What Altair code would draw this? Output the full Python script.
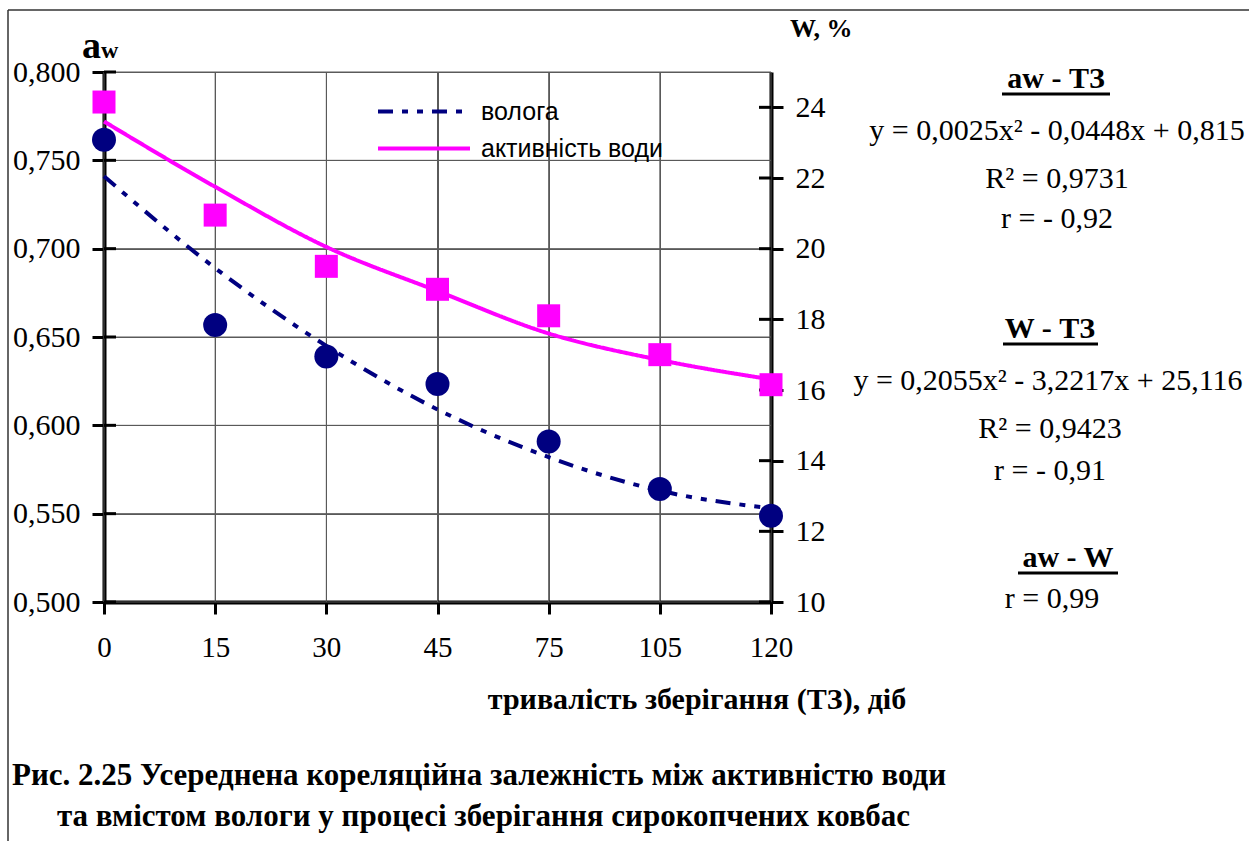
import altair as alt
import pandas as pd

# ---------------- data ----------------
days = ["0", "15", "30", "45", "75", "105", "120"]
aw_points = [0.783, 0.719, 0.690, 0.677, 0.662, 0.640, 0.623]      # магента квадрати (ліва вісь)
aw_trend = [0.772, 0.735, 0.701, 0.676, 0.652, 0.637, 0.626]       # лінія тренду aw
w_points = [23.08, 17.84, 16.95, 16.17, 14.54, 13.20, 12.44]       # сині кола (права вісь)
w_trend = [22.05, 19.45, 17.25, 15.45, 14.10, 13.15, 12.65]        # лінія тренду W
aw_ticks = [0.50, 0.55, 0.60, 0.65, 0.70, 0.75, 0.80]
w_ticks = [10, 12, 14, 16, 18, 20, 22, 24]
series_names = ["волога", "активність води"]
series_colors = ["#000080", "#ff00ff"]

OX, OY = 104, 72          # plot origin in page pixels
W_PLOT, H_PLOT = 667, 530

df = pd.DataFrame({"t": days, "aw": aw_points, "w": w_points})
df_aw_line = pd.DataFrame({"t": days, "v": aw_trend, "s": [series_names[1]] * len(days)})
df_w_line = pd.DataFrame({"t": days, "v": w_trend, "s": [series_names[0]] * len(days)})
df_hgrid = pd.DataFrame([{"t": d, "g": v} for v in aw_ticks for d in (days[0], days[-1])])
df_lt = pd.DataFrame({"t": [days[0]] * len(aw_ticks), "g": aw_ticks})
df_rt = pd.DataFrame({"t": [days[-1]] * len(w_ticks), "g": w_ticks})
df_days = pd.DataFrame({"t": days})
one = pd.DataFrame({"k": [0]})

SERIF = "Liberation Serif"
GRID = "#5a5a5a"

x_axis = alt.Axis(orient="bottom", title=None, labelAngle=0, labelFont=SERIF,
                  labelFontSize=29, labelColor="black", labelPadding=19,
                  tickSize=12, tickWidth=3, tickColor="black",
                  domainColor="black", domainWidth=4,
                  grid=True, gridColor=GRID, gridWidth=1)
x_scale = alt.Scale(type="point", padding=0)


def xe():
    return alt.X("t:N", sort=days, scale=x_scale, axis=x_axis)


color_scale = alt.Scale(domain=series_names, range=series_colors)
dash_scale = alt.Scale(domain=series_names, range=[[15, 9, 6, 9, 6, 9], [1, 0]])
legend = alt.Legend(orient="none", legendX=272, legendY=27, title=None,
                    symbolType="stroke", symbolSize=8464, symbolStrokeWidth=4,
                    clipHeight=25, rowPadding=11, labelOffset=9, padding=0,
                    labelLimit=500,
                    labelFont="Liberation Sans", labelFontSize=25, labelColor="black")

y_left = alt.Scale(domain=[0.5, 0.8], nice=False, zero=False)
y_right = alt.Scale(domain=[10, 25], nice=False, zero=False)

left_axis = alt.Axis(orient="left", title=None, values=aw_ticks,
                     labelExpr="replace(format(datum.value, '.3f'), '.', ',')",
                     labelFont=SERIF, labelFontSize=30, labelColor="black", labelPadding=12,
                     tickSize=12, tickWidth=3, tickColor="black",
                     domainColor="black", domainWidth=4,
                     grid=True, gridColor=GRID, gridWidth=1)
right_axis = alt.Axis(orient="right", title=None, values=w_ticks, format="d",
                      labelFont=SERIF, labelFontSize=30, labelColor="black", labelPadding=12,
                      tickSize=12, tickWidth=3, tickColor="black",
                      domainColor="black", domainWidth=4, grid=False)

# grid lines from the tick arrays, through the scales
v_grid = alt.Chart(df_days).mark_rule(color=GRID, strokeWidth=1).encode(x=xe())
h_grid = alt.Chart(df_hgrid).mark_line(color=GRID, strokeWidth=1).encode(
    x=xe(), y=alt.Y("g:Q", scale=y_left, axis=None), detail="g:N")
# inner halves of the crossing ticks on both value axes
left_inner = alt.Chart(df_lt).mark_point(
    shape="M0,0L1,0", size=576, stroke="black", strokeWidth=3, filled=False, opacity=1
).encode(x=xe(), y=alt.Y("g:Q", scale=y_left, axis=None))
right_inner = alt.Chart(df_rt).mark_point(
    shape="M-1,0L0,0", size=576, stroke="black", strokeWidth=3, filled=False, opacity=1
).encode(x=xe(), y=alt.Y("g:Q", scale=y_right, axis=None))

aw_line = alt.Chart(df_aw_line).mark_line(strokeWidth=4, interpolate="monotone").encode(
    x=xe(),
    y=alt.Y("v:Q", scale=y_left, axis=left_axis),
    color=alt.Color("s:N", scale=color_scale, legend=legend),
    strokeDash=alt.StrokeDash("s:N", scale=dash_scale, legend=legend),
)
aw_sq = alt.Chart(df).mark_square(size=529, color="#ff00ff", opacity=1).encode(
    x=xe(), y=alt.Y("aw:Q", scale=y_left, axis=None))

w_line = alt.Chart(df_w_line).mark_line(strokeWidth=4, interpolate="monotone").encode(
    x=xe(),
    y=alt.Y("v:Q", scale=y_right, axis=right_axis),
    color=alt.Color("s:N", scale=color_scale, legend=legend),
    strokeDash=alt.StrokeDash("s:N", scale=dash_scale, legend=legend),
)
w_pt = alt.Chart(df).mark_circle(size=576, color="#000080", opacity=1).encode(
    x=xe(), y=alt.Y("w:Q", scale=y_right, axis=None))


def txt(s, x, y, size=30, bold=False, align="left", font=SERIF):
    return alt.Chart(one).mark_text(
        text=s, align=align, baseline="alphabetic", font=font, fontSize=size,
        fontWeight="bold" if bold else "normal", color="black",
    ).encode(x=alt.value(x - OX), y=alt.value(y - OY))


def hline(x1, x2, y, w=3, color="black"):
    return alt.Chart(one).mark_rule(strokeWidth=w, color=color).encode(
        x=alt.value(x1 - OX), x2=alt.value(x2 - OX), y=alt.value(y - OY))


def vline(x, y1, y2, w=1.5, color="black"):
    return alt.Chart(one).mark_rule(strokeWidth=w, color=color).encode(
        x=alt.value(x - OX), y=alt.value(y1 - OY), y2=alt.value(y2 - OY))


annotations = [
    # frame
    hline(8, 1249, 10, w=1.5, color="#333333"),
    vline(8, 10, 841, w=1.5, color="#333333"),
    # axis names
    txt("a", 82, 58, size=38, bold=True),
    txt("w", 101, 58, size=24, bold=True),
    txt("W, %", 790, 37, size=26, bold=True),
    txt("тривалість зберігання (ТЗ), діб", 697, 709, size=30, bold=True, align="center"),
    # block 1
    txt("aw  - ТЗ", 1056, 88, bold=True, align="center"),
    hline(1002, 1110, 94),
    txt("y = 0,0025x² - 0,0448x + 0,815", 1057, 140, align="center"),
    txt("R² = 0,9731", 1057, 188, align="center"),
    txt("r = - 0,92", 1057, 228, align="center"),
    # block 2
    txt("W - ТЗ", 1050, 338, bold=True, align="center"),
    hline(1003, 1098, 344),
    txt("y = 0,2055x² - 3,2217x + 25,116", 1048, 390, align="center"),
    txt("R² = 0,9423", 1050, 438, align="center"),
    txt("r = - 0,91", 1050, 480, align="center"),
    # block 3
    txt("aw  - W", 1068, 567, bold=True, align="center"),
    hline(1018, 1118, 573),
    txt("r = 0,99", 1052, 608, align="center"),
    # caption
    txt("Рис. 2.25  Усереднена кореляційна залежність між активністю води", 12, 785, size=31, bold=True),
    txt("та вмістом вологи  у процесі зберігання сирокопчених ковбас", 57, 826, size=31, bold=True),
]

chart = alt.layer(
    v_grid, h_grid, left_inner, right_inner, aw_line, w_line, aw_sq, w_pt, *annotations
).resolve_scale(
    y="independent"
).properties(
    width=W_PLOT, height=H_PLOT, autosize="none",
    padding={"left": OX, "top": OY, "right": 1249 - OX - W_PLOT, "bottom": 841 - OY - H_PLOT},
    background="white",
).configure_view(stroke=None)

chart.save("out.html", embed_options={"renderer": "svg", "actions": False})
